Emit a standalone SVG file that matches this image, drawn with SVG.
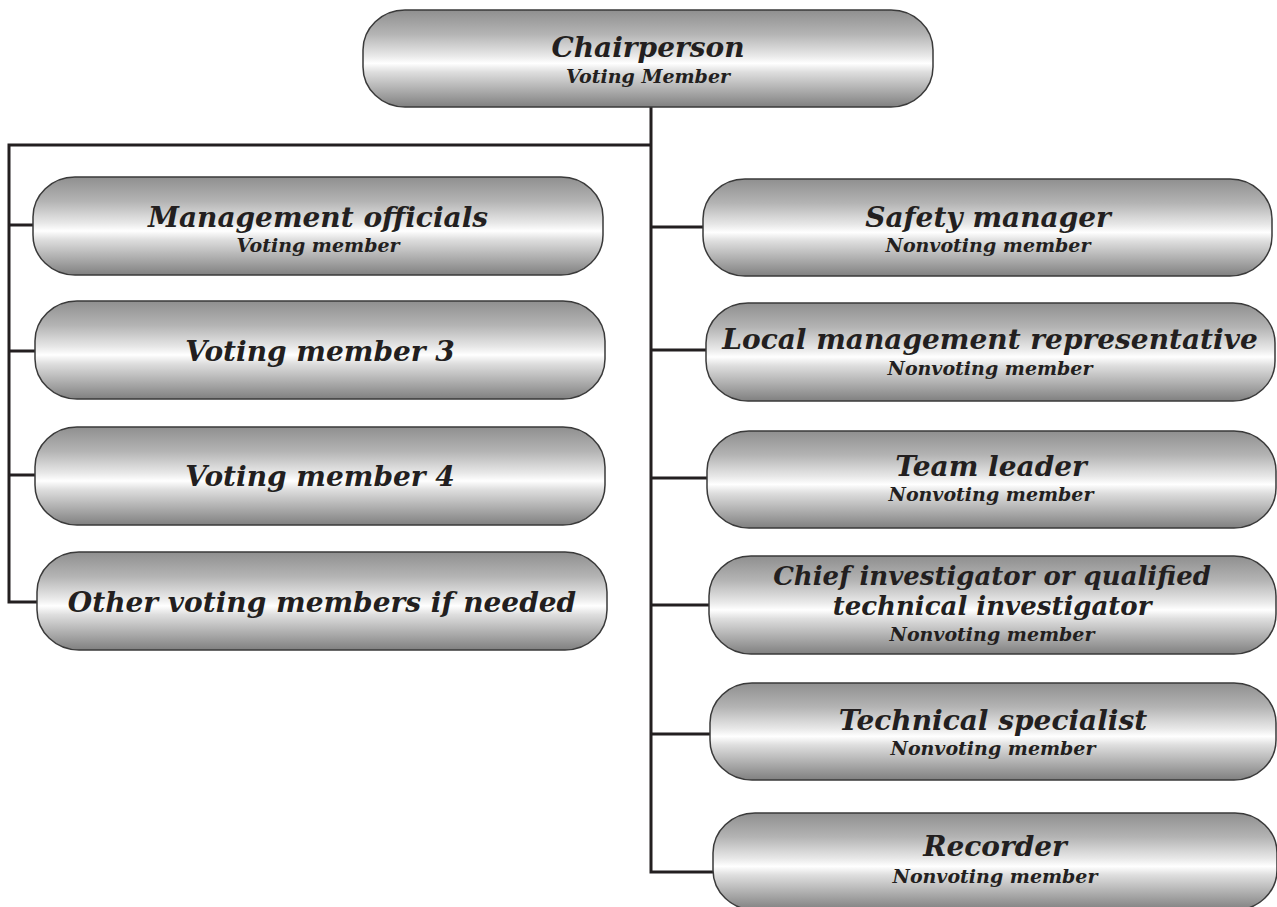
<svg xmlns="http://www.w3.org/2000/svg" width="1277" height="907" viewBox="0 0 1277 907">
<defs>
<linearGradient id="g" x1="0" y1="0" x2="0" y2="1">
<stop offset="0" stop-color="#8f8f8f"/>
<stop offset="0.25" stop-color="#b4b4b4"/>
<stop offset="0.47" stop-color="#e8e8e8"/>
<stop offset="0.55" stop-color="#ffffff"/>
<stop offset="0.64" stop-color="#dedede"/>
<stop offset="1" stop-color="#808080"/>
</linearGradient>
<style>
.box{fill:url(#g);stroke:#3a3a3a;stroke-width:1.5}
.t{font-family:"DejaVu Serif",serif;font-weight:bold;font-style:italic;fill:#231f20;text-anchor:middle}
.h{font-size:28px}
.h2{font-size:26px}
.s{font-size:19px}
.c{fill:none;stroke:#231f20;stroke-width:3}
</style>
</defs>
<rect width="1277" height="907" fill="#ffffff"/>
<g id="connectors">
<polyline class="c" points="651,107 651,872 713,872"/>
<polyline class="c" points="651,145 9,145 9,602 37,602"/>
<line class="c" x1="9" y1="225" x2="33" y2="225"/>
<line class="c" x1="9" y1="351" x2="35" y2="351"/>
<line class="c" x1="9" y1="475" x2="35" y2="475"/>
<line class="c" x1="651" y1="227" x2="703" y2="227"/>
<line class="c" x1="651" y1="350" x2="706" y2="350"/>
<line class="c" x1="651" y1="478" x2="707" y2="478"/>
<line class="c" x1="651" y1="605" x2="709" y2="605"/>
<line class="c" x1="651" y1="734" x2="710" y2="734"/>
</g>
<g id="chair">
<rect class="box" x="363" y="10" width="570" height="97" rx="42" ry="40"/>
<text class="t h" x="648" y="57">Chairperson</text>
<text class="t s" x="648" y="83">Voting Member</text>
</g>
<g id="management">
<rect class="box" x="33" y="177" width="570" height="98" rx="42" ry="40"/>
<text class="t h" x="318" y="227">Management officials</text>
<text class="t s" x="318" y="252">Voting member</text>
</g>
<g id="voting3">
<rect class="box" x="35" y="301" width="570" height="98" rx="42" ry="40"/>
<text class="t h" x="320" y="361">Voting member 3</text>
</g>
<g id="voting4">
<rect class="box" x="35" y="427" width="570" height="98" rx="42" ry="40"/>
<text class="t h" x="320" y="486">Voting member 4</text>
</g>
<g id="other">
<rect class="box" x="37" y="552" width="570" height="98" rx="42" ry="40"/>
<text class="t h" x="322" y="612">Other voting members if needed</text>
</g>
<g id="safety">
<rect class="box" x="703" y="179" width="569" height="97" rx="42" ry="40"/>
<text class="t h" x="988" y="227">Safety manager</text>
<text class="t s" x="988" y="252">Nonvoting member</text>
</g>
<g id="local">
<rect class="box" x="706" y="303" width="569" height="98" rx="42" ry="40"/>
<text class="t h" x="990" y="349">Local management representative</text>
<text class="t s" x="990" y="375">Nonvoting member</text>
</g>
<g id="teamleader">
<rect class="box" x="707" y="431" width="569" height="97" rx="42" ry="40"/>
<text class="t h" x="991" y="476">Team leader</text>
<text class="t s" x="991" y="501">Nonvoting member</text>
</g>
<g id="chief">
<rect class="box" x="709" y="556" width="567" height="98" rx="42" ry="40"/>
<text class="t h2" x="992" y="585">Chief investigator or qualified</text>
<text class="t h2" x="992" y="615">technical investigator</text>
<text class="t s" x="992" y="641">Nonvoting member</text>
</g>
<g id="techspecialist">
<rect class="box" x="710" y="683" width="566" height="97" rx="42" ry="40"/>
<text class="t h" x="993" y="730">Technical specialist</text>
<text class="t s" x="993" y="755">Nonvoting member</text>
</g>
<g id="recorder">
<rect class="box" x="713" y="813" width="564" height="97" rx="42" ry="40"/>
<text class="t h" x="995" y="856">Recorder</text>
<text class="t s" x="995" y="883">Nonvoting member</text>
</g>
</svg>
